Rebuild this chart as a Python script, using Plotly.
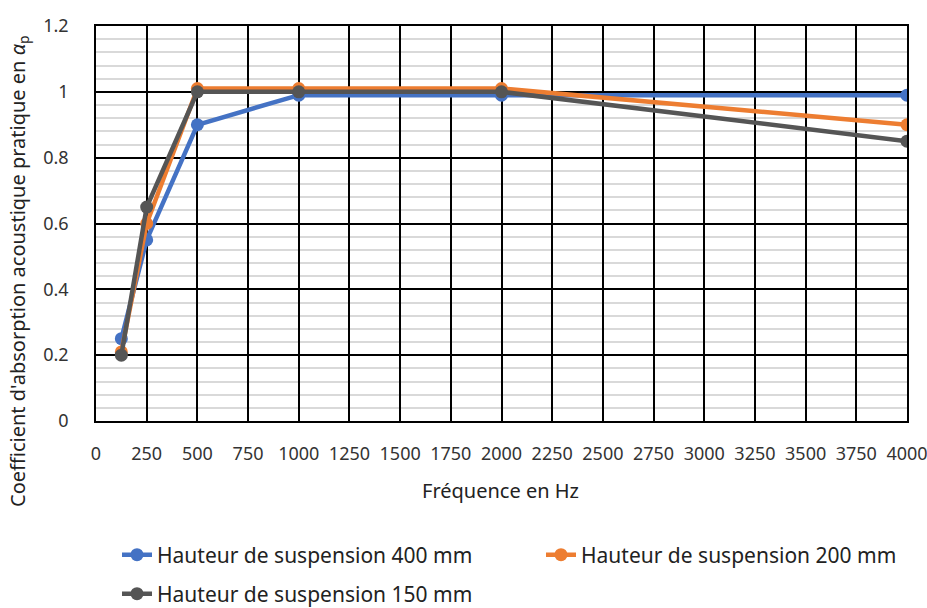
import plotly.graph_objects as go

freq = [125, 250, 500, 1000, 2000, 4000]
h400 = [0.25, 0.55, 0.90, 0.99, 0.99, 0.99]
h200 = [0.21, 0.60, 1.01, 1.01, 1.01, 0.90]
h150 = [0.20, 0.65, 1.00, 1.00, 1.00, 0.85]
names = ["Hauteur de suspension 400 mm", "Hauteur de suspension 200 mm", "Hauteur de suspension 150 mm"]
colors = ["#4472C4", "#ED7D31", "#555555"]
x_ticks = list(range(0, 4001, 250))
y_ticks = [0, 0.2, 0.4, 0.6, 0.8, 1, 1.2]
y_labels = ["0", "0.2", "0.4", "0.6", "0.8", "1", "1.2"]

FONT = "Noto Sans"
TXT = "#333333"
legend_ids = ["legend", "legend2", "legend3"]

fig = go.Figure()
for ys, n, c, lg in zip([h400, h200, h150], names, colors, legend_ids):
    fig.add_trace(go.Scatter(x=freq, y=ys, name=n, mode="lines+markers",
                             line=dict(color=c, width=4.5),
                             marker=dict(color=c, size=13),
                             legend=lg))

# plot area: x 96..907, y 26..421
def px_x(p):
    return (p - 96) / 811

def px_y(p):
    return (421 - p) / 395

leg_common = dict(xanchor="left", yanchor="middle", itemwidth=30,
                  bgcolor="rgba(0,0,0,0)",
                  font=dict(family=FONT, size=21, color="#222222"))

fig.update_layout(
    width=927, height=608,
    paper_bgcolor="white", plot_bgcolor="white",
    margin=dict(l=96, r=20, t=26, b=187, autoexpand=False),
    font=dict(family=FONT, size=18, color=TXT),
    showlegend=True,
    legend=dict(x=px_x(117), y=px_y(555), **leg_common),
    legend2=dict(x=px_x(541), y=px_y(555), **leg_common),
    legend3=dict(x=px_x(117), y=px_y(594), **leg_common),
    xaxis=dict(range=[0, 4000], tickvals=x_ticks, ticktext=[str(v) for v in x_ticks],
               showgrid=True, gridcolor="black", gridwidth=1.5,
               zeroline=False, showline=True, linecolor="black", linewidth=1.5, mirror=True,
               ticks="", ticklabelstandoff=16, ticklabeloverflow="allow",
               tickfont=dict(family=FONT, size=18, color=TXT)),
    yaxis=dict(range=[0, 1.2], tickvals=y_ticks, ticktext=y_labels,
               showgrid=True, gridcolor="black", gridwidth=1.5,
               minor=dict(dtick=0.04, showgrid=True, gridcolor="#D9D9D9", gridwidth=1.5),
               zeroline=False, showline=True, linecolor="black", linewidth=1.5, mirror=True,
               ticks="", ticklabelstandoff=22, ticklabeloverflow="allow",
               tickfont=dict(family=FONT, size=18, color=TXT)),
)
fig.add_annotation(text="Coefficient d'absorption acoustique pratique en <i>α</i><sub>p</sub>",
                   xref="paper", yref="paper", x=px_x(18), y=px_y(271),
                   xanchor="center", yanchor="middle", textangle=-90, showarrow=False,
                   font=dict(family=FONT, size=20, color="#222222"))
fig.add_annotation(text="Fréquence en Hz",
                   xref="paper", yref="paper", x=px_x(500), y=px_y(490),
                   xanchor="center", yanchor="middle", showarrow=False,
                   font=dict(family=FONT, size=20, color="#222222"))
fig.write_html("out.html")
